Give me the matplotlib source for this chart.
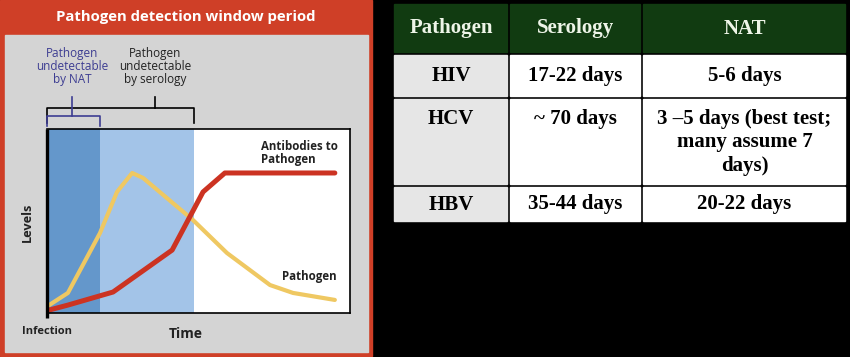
import matplotlib
matplotlib.use("Agg")
import matplotlib.pyplot as plt
from matplotlib.patches import Rectangle

# ---- data ----
time_pathogen = [0.7, 6.9, 17.5, 23.1, 28.1, 31.7, 48.2, 59.4, 73.6, 81.2, 95.0]
level_pathogen = [4.3, 10.9, 43.5, 65.8, 76.1, 73.4, 50.5, 32.6, 15.2, 10.9, 7.1]
time_antibody = [0.7, 6.9, 21.8, 41.3, 51.5, 58.7, 95.0]
level_antibody = [1.6, 4.3, 11.4, 34.2, 65.8, 76.1, 76.1]
nat_window = [0, 17.5]
sero_window = [17.5, 48.5]

table_header = ["Pathogen", "Serology", "NAT"]
table_pathogens = ["HIV", "HCV", "HBV"]
table_serology = ["17-22 days", "~ 70 days", "35-44 days"]
table_nat = ["5-6 days", "3 \u20135 days (best test;\nmany assume 7\ndays)", "20-22 days"]

# ---- colours ----
RED = "#cf3f27"
GRAY = "#d4d4d4"
DARKBLUE = "#6497cb"
LIGHTBLUE = "#a3c4e8"
YELLOW = "#efc862"
LINERED = "#cc3322"
NAVY = "#3d3d92"
GREEN = "#113b11"
CELLGRAY = "#e6e6e6"

SANS = "Open Sans"
SERIF = "Liberation Serif"

fig = plt.figure(figsize=(8.5, 3.57), dpi=100)
fig.patch.set_facecolor("black")

bg = fig.add_axes([0, 0, 1, 1])
bg.set_xlim(0, 850)
bg.set_ylim(357, 0)
bg.axis("off")

# left panel frame
bg.add_patch(Rectangle((0, 0), 372, 356, color=RED, zorder=0))
bg.add_patch(Rectangle((5, 35), 363, 317, color=GRAY, zorder=1))
bg.text(186, 17, "Pathogen detection window period", color="white",
        fontsize=10.7, fontweight="bold", family=SANS, ha="center", va="center", zorder=2)

# brackets
bg.plot([47, 47, 194, 194], [123, 108, 108, 123], color="black", lw=1.2, zorder=2)
bg.plot([155, 155], [97, 108], color="black", lw=1.2, zorder=2)
bg.plot([47, 47, 100, 100], [126, 116, 116, 126], color=NAVY, lw=1.2, zorder=3)
bg.plot([72, 72], [97, 116], color=NAVY, lw=1.2, zorder=3)
bg.text(72, 66, "Pathogen\nundetectable\nby NAT", color=NAVY, fontsize=8.5,
        family=SANS, ha="center", va="center", linespacing=1.0, zorder=3)
bg.text(155, 66, "Pathogen\nundetectable\nby serology", color="#222222", fontsize=8.5,
        family=SANS, ha="center", va="center", linespacing=1.0, zorder=3)

bg.text(27, 222, "Levels", rotation=90, fontsize=9.2, fontweight="bold", family=SANS,
        ha="center", va="center", color="#222222", zorder=3)
bg.text(47, 332, "Infection", fontsize=8, fontweight="bold", family=SANS,
        ha="center", va="center", color="#222222", zorder=3)
bg.text(186, 334, "Time", fontsize=10, fontweight="bold", family=SANS,
        ha="center", va="center", color="#222222", zorder=3)

# table
col_edges = [393, 509, 642, 847]
row_edges = [2, 53, 97, 185, 222]
gap = 1.5
FS = 15
for j, h in enumerate(table_header):
    x0, x1 = col_edges[j], col_edges[j + 1]
    bg.add_patch(Rectangle((x0 + gap, row_edges[0] + gap), x1 - x0 - 2 * gap,
                           row_edges[1] - row_edges[0] - 2 * gap, color=GREEN, zorder=1))
    bg.text((x0 + x1) / 2, (row_edges[0] + row_edges[1]) / 2 + 1, h, color="#eef5e8",
            fontsize=FS, fontweight="bold", family=SERIF, ha="center", va="center", zorder=2)
columns = [table_pathogens, table_serology, table_nat]
for i in range(3):
    y0, y1 = row_edges[i + 1], row_edges[i + 2]
    for j in range(3):
        x0, x1 = col_edges[j], col_edges[j + 1]
        bg.add_patch(Rectangle((x0 + gap, y0 + gap), x1 - x0 - 2 * gap, y1 - y0 - 2 * gap,
                               color=CELLGRAY if j == 0 else "white", zorder=1))
        txt = columns[j][i]
        if i == 1:
            bg.text((x0 + x1) / 2, y0 + 12, txt, color="black", fontsize=FS,
                    fontweight="bold", family=SERIF, ha="center", va="top",
                    linespacing=1.22, zorder=2)
        else:
            bg.text((x0 + x1) / 2, (y0 + y1) / 2 + 1, txt, color="black", fontsize=FS,
                    fontweight="bold", family=SERIF, ha="center", va="center", zorder=2)

# main chart
ax = fig.add_axes([47 / 850, 44 / 357, 303 / 850, 184 / 357])
ax.set_xlim(0, 100)
ax.set_ylim(0, 100)
ax.set_facecolor("white")
ax.axvspan(*nat_window, color=DARKBLUE, lw=0)
ax.axvspan(*sero_window, color=LIGHTBLUE, lw=0)
ax.plot(time_pathogen, level_pathogen, color=YELLOW, lw=3, solid_joinstyle="round",
        solid_capstyle="round")
ax.plot(time_antibody, level_antibody, color=LINERED, lw=3.6, solid_joinstyle="round",
        solid_capstyle="round")
ax.set_xticks([])
ax.set_yticks([])
for s in ax.spines.values():
    s.set_linewidth(1.2)
    s.set_color("black")
ax.spines["left"].set_visible(False)

ax.text(70.5, 87, "Antibodies to\nPathogen", fontsize=8.3,
        fontweight="bold", family=SANS, ha="left", va="center", linespacing=0.95,
        color="#222222")
ax.text(95.5, 20, "Pathogen", fontsize=8.3, fontweight="bold", family=SANS,
        ha="right", va="center", color="#222222")

# thick infection line extending below the axes
bg2 = fig.add_axes([0, 0, 1, 1], zorder=5)
bg2.set_xlim(0, 850)
bg2.set_ylim(357, 0)
bg2.axis("off")
bg2.plot([47, 47], [129, 318], color="black", lw=2.4, solid_capstyle="butt")

fig.savefig("out.png", dpi=100, facecolor=fig.get_facecolor())
